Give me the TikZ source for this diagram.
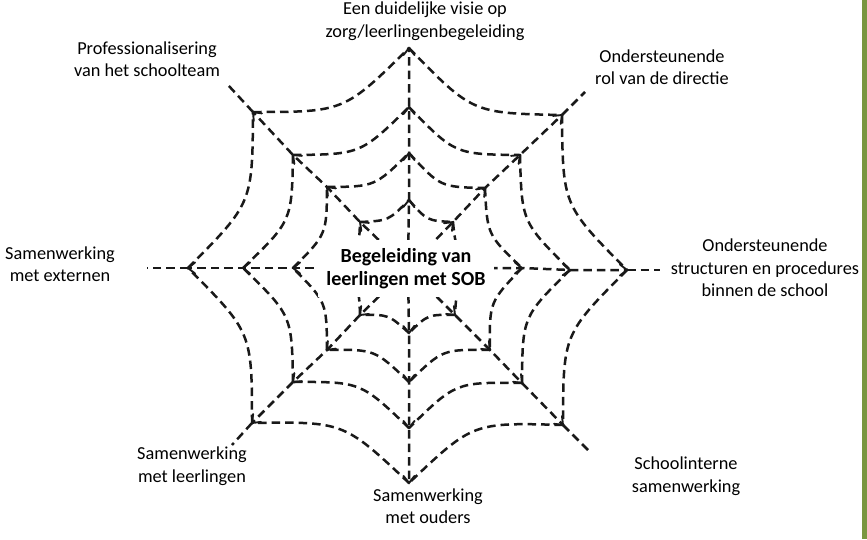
\documentclass[tikz,border=0pt]{standalone}
\usepackage{fontspec}
\setmainfont{Carlito}
\usetikzlibrary{calc}
\definecolor{stripgreen}{RGB}{122,150,64}
\definecolor{ink}{RGB}{25,25,25}
\begin{document}
\begin{tikzpicture}[x=1pt,y=-1pt,
  web/.style={draw=ink, line width=2.5pt, dash pattern=on 8.5pt off 5pt},
  chev/.style={draw=ink, line width=1.9pt, solid, line cap=round, line join=miter},
  lbl/.style={font=\fontsize{18.3}{22.5}\selectfont, align=center, inner sep=0pt, text=black},
  centre/.style={font=\fontsize{20}{23}\selectfont\bfseries, align=center, inner sep=0pt,
    fill=white, minimum width=176pt, minimum height=57pt}]
\useasboundingbox (0,0) rectangle (867,539);
\fill[white] (0,0) rectangle (867,539);
\fill[stripgreen] (861.5,0) rectangle (867,539);

\coordinate (O) at (408,268);
% ring vertices: direction + ring number (1 = outer, 5 = centre)
\coordinate (N1) at (409,48);   \coordinate (N2) at (409,107);  \coordinate (N3) at (409,153);  \coordinate (N4) at (409,200);
\coordinate (NE1) at (562,115); \coordinate (NE2) at (520,155); \coordinate (NE3) at (485,188); \coordinate (NE4) at (453,222);
\coordinate (E1) at (627,270);  \coordinate (E2) at (570,270);  \coordinate (E3) at (522,268);  \coordinate (E4) at (478,268);
\coordinate (SE1) at (563,425); \coordinate (SE2) at (522,383); \coordinate (SE3) at (490,350); \coordinate (SE4) at (455,315);
\coordinate (S1) at (409,483);  \coordinate (S2) at (409,428);  \coordinate (S3) at (409,382);  \coordinate (S4) at (409,333);
\coordinate (SW1) at (252,423); \coordinate (SW2) at (293,382); \coordinate (SW3) at (327,350); \coordinate (SW4) at (360,315);
\coordinate (W1) at (188,268);  \coordinate (W2) at (243,268);  \coordinate (W3) at (293,268);  \coordinate (W4) at (338,268);
\coordinate (NW1) at (253,112); \coordinate (NW2) at (293,155); \coordinate (NW3) at (327,187); \coordinate (NW4) at (360,222);
\foreach \d in {N,NE,E,SE,S,SW,W,NW}{ \coordinate (\d5) at (O); }
% outer free ends of the spokes
\coordinate (NE0) at (585,92);
\coordinate (E0) at (660,270);
\coordinate (SE0) at (590,452);
\coordinate (SW0) at (232,445);
\coordinate (W0) at (147,268);
\coordinate (NW0) at (228,85);

% rings
\foreach \r in {1,...,4}{
  \foreach \a/\b in {N/NE,NE/E,E/SE,SE/S,S/SW,SW/W,W/NW,NW/N}{
    \draw[web] (\a\r) .. controls ($($(\a\r)!0.5!(\b\r)$)!0.17!(O)$) .. (\b\r);
  }
}
% spokes with open arrowheads pointing outward at each ring
\foreach \d in {N,NE,E,SE,S,SW,W,NW}{
  \draw[web] (\d5) -- (\d4) -- (\d3) -- (\d2) -- (\d1);
  \foreach \p/\q in {4/5,3/4,2/3,1/2}{
    \draw[chev] ($(\d\p)!9pt!38:(\d\q)$) -- (\d\p) -- ($(\d\p)!9pt!-38:(\d\q)$);
  }
}
\foreach \d in {NE,E,SE,SW,W,NW}{
  \draw[web] (\d1) -- (\d0);
}

\node[centre] (C) at (406,268.5) {Begeleiding van\\leerlingen met SOB};

\node[lbl] (visie) at (425,21) {Een duidelijke visie op\\zorg/leerlingenbegeleiding};
\node[lbl] (prof) at (147,59) {Professionalisering\\van het schoolteam};
\node[lbl] (dir) at (662,67) {Ondersteunende\\rol van de directie};
\node[lbl] (ext) at (60,264) {Samenwerking\\met externen};
\node[lbl] (struc) at (765,268) {Ondersteunende\\structuren en procedures\\binnen de school};
\node[lbl] (intern) at (686,476) {Schoolinterne\\samenwerking};
\node[lbl] (ouders) at (428,506) {Samenwerking\\met ouders};
\node[lbl] (leer) at (192,466) {Samenwerking\\met leerlingen};
\end{tikzpicture}
\end{document}
